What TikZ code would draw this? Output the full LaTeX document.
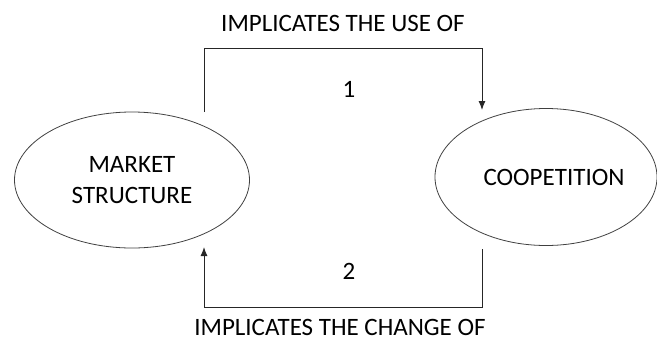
\documentclass[tikz,border=0pt]{standalone}
\usepackage{fontspec}
\setmainfont{Carlito}
\usetikzlibrary{shapes.geometric}
\usetikzlibrary{arrows.meta}

\begin{document}
\begin{tikzpicture}
[x=1pt,y=-1pt,%
  every node/.style={inner sep=0pt,font=\fontsize{25}{31}\selectfont},%
  bubble/.style={ellipse,draw=black!75,line width=0.8pt,align=center},%
  link/.style={-{Latex[length=9pt,width=7pt]},line width=1pt,draw=black!85}]
\useasboundingbox (0,0) rectangle (657,341);
% the two ellipses
\node[bubble,minimum width=235pt,minimum height=136pt] (market) at (132,180) {MARKET\\STRUCTURE};
\node[bubble,minimum width=218pt,minimum height=137pt] (coop) at (546,177) {\hspace{16pt}COOPETITION};
% free ends of the connectors
\coordinate (t1) at (204,112);
\coordinate (t2) at (482,110);
\coordinate (b1) at (482,249);
\coordinate (b2) at (204,247);
\draw[link] (t1) -- ++(0,-64) -| (t2);
\draw[link] (b1) -- ++(0,58) -| (b2);
% labels
\node (use) at (343,23) {IMPLICATES THE USE OF};
\node (one) at (349,89) {1};
\node (two) at (349,271) {2};
\node (change) at (340,327) {IMPLICATES THE CHANGE OF};
\end{tikzpicture}
\end{document}
